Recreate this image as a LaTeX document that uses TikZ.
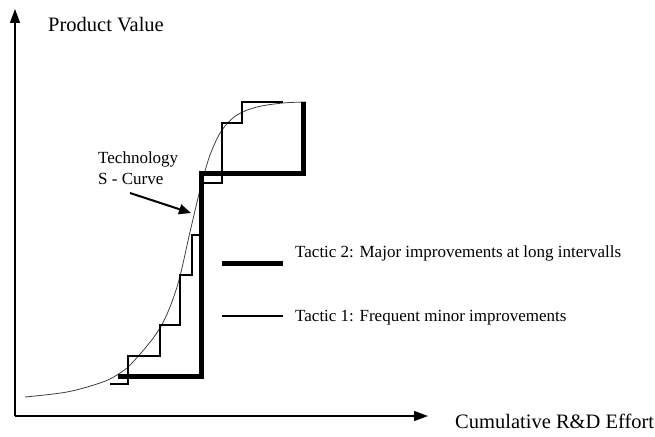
\documentclass[tikz,border=0pt]{standalone}
\usepackage{fontspec}
\setmainfont{Liberation Serif}
\usetikzlibrary{arrows.meta}
\begin{document}
\begin{tikzpicture}[x=1pt,y=-1pt,
  axis/.style={line width=1.4pt,-{Triangle[length=14pt,width=10pt]}},
  scurve/.style={line width=0.8pt,black!75},
  major/.style={line width=5pt,black},
  minor/.style={line width=2.7pt,black},
  pointer/.style={line width=2pt,-{Triangle[length=12pt,width=10pt]}},
  biglabel/.style={anchor=base west,inner sep=0pt,font=\fontsize{20.5}{24}\selectfont},
  smalllabel/.style={anchor=base west,inner sep=0pt,font=\fontsize{17}{20}\selectfont}]
\useasboundingbox (0,0) rectangle (655,436);

% axes
\coordinate (origin) at (15,416);
\coordinate (ytip) at (15,9);
\coordinate (xtip) at (428,416);
\draw[axis] (origin) -- (ytip);
\draw[axis] (origin) -- (xtip);
\node[biglabel] (ylabel) at (48,31.5) {Product Value};
\node[biglabel] (xlabel) at (455,428.5) {Cumulative R\&D Effort};

% technology S-curve
\draw[scurve] plot[smooth,tension=0.55] coordinates {
  (25,397) (67,392) (100,383) (117,375) (133,362) (160,328) (177,287)
  (190,232) (200,190) (210,155) (222,130) (237,115) (257,107) (283,103) (306,102)};

% tactic 1: frequent minor steps
\draw[minor] (110,384) -| (128,356) -| (160,325) -| (180,275) -| (192,235)
  -| (200,183) -| (222,123) -| (242,102) -- (283,102);

% tactic 2: few major steps
\draw[major] (118,376) -| (201,173) -| (303,102);

% S-curve label and pointer
\node[smalllabel] (tech) at (98,163.5) {Technology};
\node[smalllabel] (scv) at (98,184) {S - Curve};
\coordinate (ptail) at (130,193);
\coordinate (phead) at (191,213);
\draw[pointer] (ptail) -- (phead);

% legend
\coordinate (l2a) at (222,263);
\coordinate (l2b) at (283,263);
\coordinate (l1a) at (222,316);
\coordinate (l1b) at (283,316);
\draw[major] (l2a) -- (l2b);
\draw[minor] (l1a) -- (l1b);
\node[smalllabel] (t2) at (295,257) {Tactic 2: Major improvements at long intervalls};
\node[smalllabel] (t1) at (295,321.5) {Tactic 1: Frequent minor improvements};
\end{tikzpicture}
\end{document}
